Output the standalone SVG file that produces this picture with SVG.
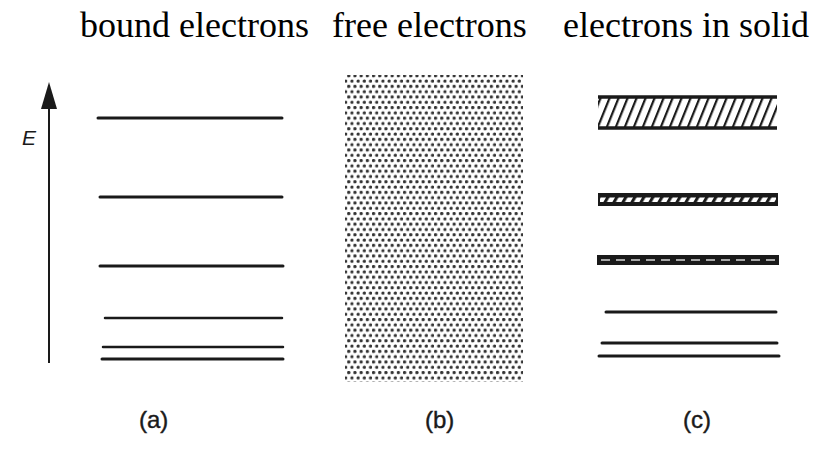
<svg xmlns="http://www.w3.org/2000/svg" width="829" height="449" viewBox="0 0 829 449">
  <style>
    .title { font-family: "Liberation Serif", "Times New Roman", serif; font-size: 36px; fill: #000; }
    .lab { font-family: "Liberation Sans", Arial, sans-serif; font-size: 24px; fill: #1a1a1a; stroke: #1a1a1a; stroke-width: 0.4; }
    .axislab { font-family: "Liberation Sans", Arial, sans-serif; font-size: 21px; font-style: italic; fill: #1a1a1a; }
    .lvl { stroke: #1a1a1a; stroke-width: 3; stroke-linecap: round; fill: none; }
    .lvlthin { stroke: #1a1a1a; stroke-width: 2.5; stroke-linecap: round; fill: none; }
    .edge { stroke: #1a1a1a; stroke-width: 3.5; fill: none; }
  </style>
  <defs>
    <pattern id="dots" patternUnits="userSpaceOnUse" width="6.2" height="10.6">
      <circle cx="1.6" cy="1.6" r="1.65" fill="#333333"/>
      <circle cx="4.7" cy="6.9" r="1.65" fill="#333333"/>
    </pattern>
    <pattern id="hatch" patternUnits="userSpaceOnUse" width="9" height="40" patternTransform="skewX(-22)">
      <rect x="0" y="0" width="2.4" height="40" fill="#1a1a1a"/>
    </pattern>
    <pattern id="hatch2" patternUnits="userSpaceOnUse" width="9" height="40" patternTransform="skewX(-30)">
      <rect x="0" y="0" width="9" height="40" fill="#ffffff"/>
      <rect x="0" y="0" width="3.5" height="40" fill="#1a1a1a"/>
    </pattern>
  </defs>
  <rect width="829" height="449" fill="#ffffff"/>

  <g id="titles">
    <text class="title" x="80" y="37">bound electrons</text>
    <text class="title" x="332" y="37">free electrons</text>
    <text class="title" x="563" y="37">electrons in solid</text>
  </g>

  <g id="connectors">
    <line x1="49" y1="363" x2="49" y2="104" stroke="#1a1a1a" stroke-width="2"/>
    <polygon points="49,82 41,109 57,109" fill="#1a1a1a"/>
  </g>
  <g id="axis-label">
    <text class="axislab" x="22" y="145">E</text>
  </g>

  <g id="panel-a">
    <line class="lvl" x1="98" y1="118" x2="282" y2="118"/>
    <line class="lvl" x1="100" y1="197" x2="282" y2="197"/>
    <line class="lvl" x1="100" y1="266" x2="283" y2="266"/>
    <line class="lvlthin" x1="105" y1="318" x2="282" y2="318"/>
    <line class="lvlthin" x1="103" y1="347" x2="283" y2="347"/>
    <line class="lvl" x1="102" y1="359" x2="283" y2="359"/>
    <text class="lab" x="139" y="428">(a)</text>
  </g>

  <g id="panel-b">
    <rect x="345" y="75" width="178" height="307" fill="url(#dots)"/>
    <text class="lab" x="425" y="428">(b)</text>
  </g>

  <g id="panel-c">
    <g id="band-top">
      <rect x="598" y="97" width="179" height="31" fill="url(#hatch)"/>
      <line class="edge" x1="598" y1="97" x2="777" y2="97"/>
      <line class="edge" x1="598" y1="128" x2="777" y2="128"/>
    </g>
    <g id="band-mid">
      <rect x="598" y="193" width="180" height="13" fill="#1a1a1a"/>
      <rect x="600" y="197.5" width="176" height="4.5" fill="url(#hatch2)"/>
    </g>
    <g id="band-low">
      <rect x="597" y="255" width="182" height="10" fill="#1a1a1a"/>
      <line x1="601" y1="260" x2="776" y2="260" stroke="#d8d8d8" stroke-width="1.4" stroke-dasharray="9 6"/>
    </g>
    <line class="lvl" x1="606" y1="312" x2="776" y2="312"/>
    <line class="lvl" x1="602" y1="343" x2="777" y2="343"/>
    <line class="lvl" x1="599" y1="356" x2="779" y2="356"/>
    <text class="lab" x="683" y="428">(c)</text>
  </g>
</svg>
